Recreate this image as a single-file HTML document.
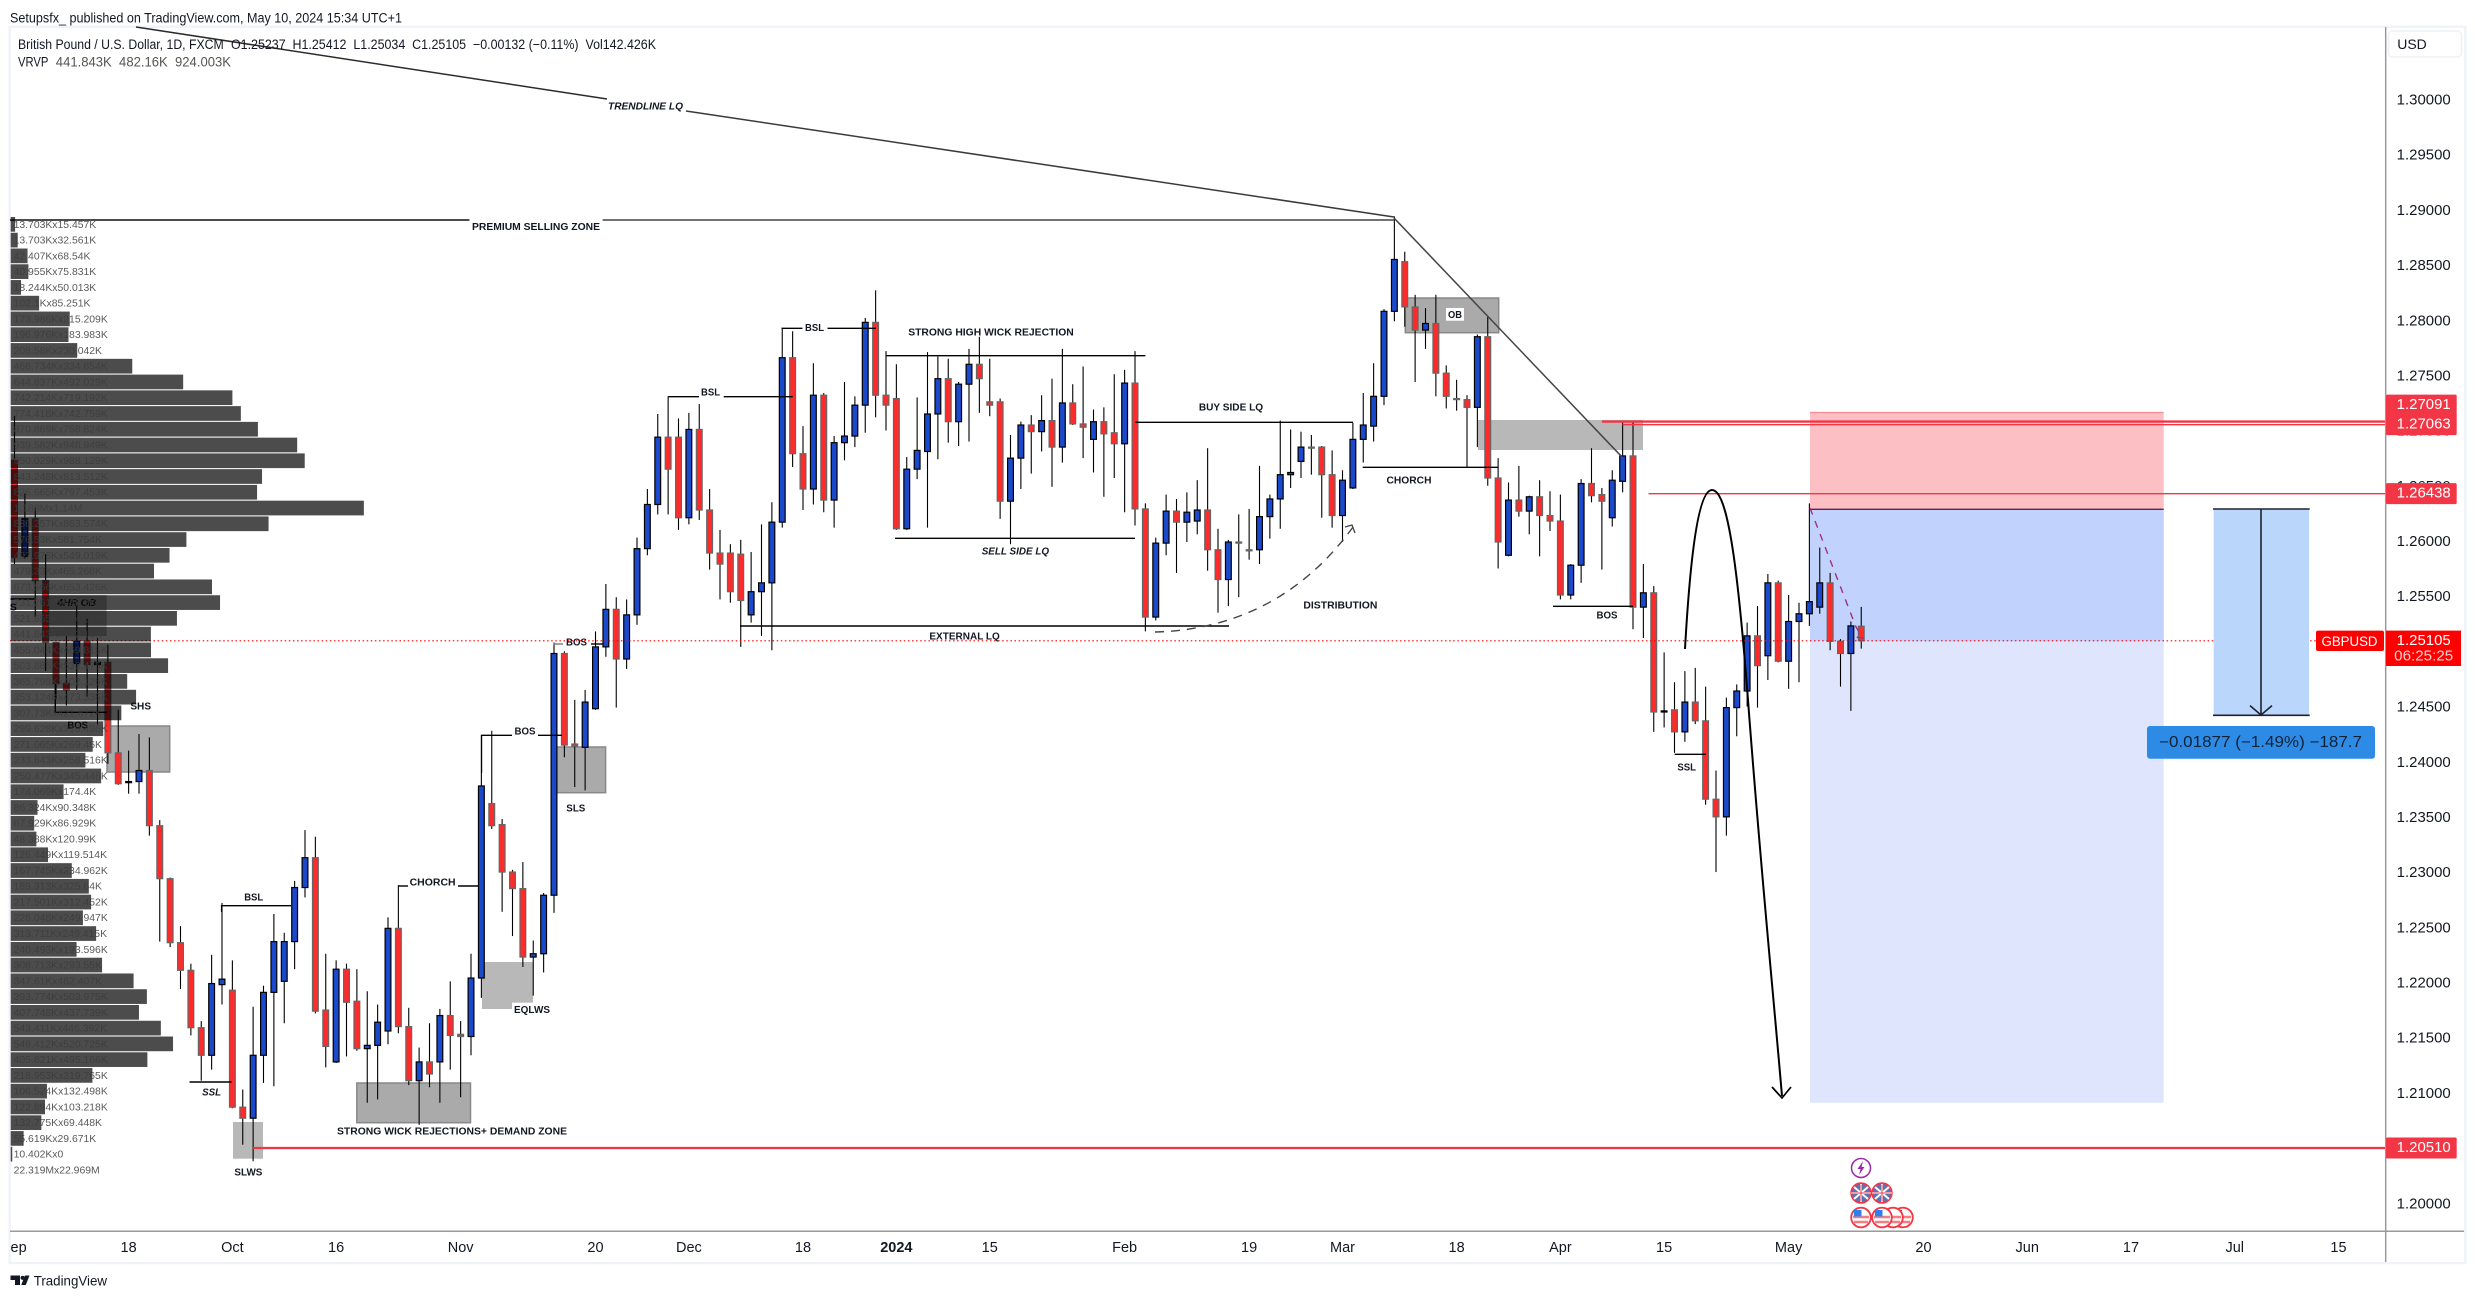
<!DOCTYPE html>
<html lang="en">
<head>
<meta charset="utf-8">
<title>GBPUSD chart</title>
<style>
html,body{margin:0;padding:0;background:#fff;width:2475px;height:1298px;overflow:hidden}
svg{display:block}
text{font-family:"Liberation Sans",sans-serif;fill:#131722}
.lbl{font-size:10.5px;font-weight:700;text-anchor:middle;dominant-baseline:central;fill:#131722}
.it{font-style:italic}
.ann{stroke:#000;stroke-width:1.4;fill:none}
.box{fill:#aaaaaa;stroke:#888;stroke-width:1.5}
.flat{fill:#b9b8b8;stroke:none}
.hdr{font-size:13.5px;dominant-baseline:central;white-space:pre}
</style>
</head>
<body>
<svg id="chart" xmlns="http://www.w3.org/2000/svg" width="2475" height="1298" viewBox="0 0 2475 1298">
  <rect x="0" y="0" width="2475" height="1298" fill="#ffffff"/>
  <text class="hdr" x="10" y="18" textLength="392" lengthAdjust="spacingAndGlyphs">Setupsfx_ published on TradingView.com, May 10, 2024 15:34 UTC+1</text>
  <rect x="9.7" y="26.7" width="2455.6" height="1236.3" fill="none" stroke="#f0f3fa" stroke-width="2.5"/>

  <g>
    <rect x="1810" y="412.3" width="353.7" height="97" fill="#fcbfc4"/>
    <line x1="1810" y1="412.5" x2="2163.7" y2="412.5" stroke="#f88d96" stroke-width="1.2"/>
    <rect x="1810" y="509.3" width="353.7" height="593.4" fill="#dee5fd"/>
    <rect x="1810" y="509.3" width="353.7" height="131.7" fill="#c1d3fd"/>
    <line x1="1810" y1="509.3" x2="2163.7" y2="509.3" stroke="#6a1a5a" stroke-width="1.3"/>
  </g>

  <g>
    <rect x="49" y="595" width="57.7" height="41" fill="#bbbbbb"/>
    <rect class="box" x="107" y="726" width="62.7" height="46"/>
    <rect class="box" x="556.6" y="747" width="49" height="45.7"/>
    <rect class="flat" x="482" y="962" width="51" height="40.7"/>
    <rect class="flat" x="482" y="1002" width="30" height="7"/>
    <rect class="box" x="356.8" y="1083" width="113.7" height="39.7"/>
    <rect class="flat" x="233" y="1122" width="30" height="36.7"/>
    <rect class="box" x="1405.3" y="298" width="93.4" height="34.7"/>
    <rect class="flat" x="1478" y="420" width="165" height="30"/>
  </g>

  <g id="candles"></g>
  <g id="priceLines"></g>

  <g>
    <polyline points="136,27 607,99" fill="none" stroke="#2b2b2b" stroke-width="1.5"/>
    <line x1="686" y1="111" x2="1394" y2="217" stroke="#3a3a3a" stroke-width="1.5"/>
    <text class="lbl it" x="645.5" y="106.7" textLength="75" lengthAdjust="spacingAndGlyphs">TRENDLINE LQ</text>
    <line x1="10" y1="220" x2="469.5" y2="220" stroke="#111" stroke-width="1.5"/>
    <line x1="602.6" y1="220" x2="1394" y2="220" stroke="#444" stroke-width="1.5"/>
    <text class="lbl" x="536" y="227" textLength="128" lengthAdjust="spacingAndGlyphs">PREMIUM SELLING ZONE</text>
    <line x1="1394" y1="218" x2="1621.7" y2="456.7" stroke="#444" stroke-width="1.5"/>

    <line class="ann" x1="10.5" y1="599" x2="34.3" y2="599"/>
    <text class="lbl" x="13.3" y="607.7">S</text>
    <text class="lbl it" x="76.7" y="603" textLength="38.7" lengthAdjust="spacingAndGlyphs">4HR OB</text>
    <polyline class="ann" points="55.3,684 55.3,712.3 107,712.3"/>
    <text class="lbl" x="77.7" y="725.7" textLength="20.7" lengthAdjust="spacingAndGlyphs">BOS</text>
    <text class="lbl" x="140.7" y="706.3" textLength="20.7" lengthAdjust="spacingAndGlyphs">SHS</text>

    <line class="ann" x1="189.5" y1="1082" x2="231.6" y2="1082"/>
    <text class="lbl it" x="211.6" y="1092.7" textLength="19" lengthAdjust="spacingAndGlyphs">SSL</text>
    <text class="lbl" x="248.4" y="1172.3" textLength="28" lengthAdjust="spacingAndGlyphs">SLWS</text>
    <polyline class="ann" points="221.6,912 221.6,905.7 291,905.7"/>
    <text class="lbl" x="253.7" y="897.7" textLength="19" lengthAdjust="spacingAndGlyphs">BSL</text>
    <line class="ann" x1="398" y1="886" x2="408" y2="886"/>
    <line class="ann" x1="458" y1="886" x2="479" y2="886"/>
    <text class="lbl" x="432.6" y="882.3" textLength="46" lengthAdjust="spacingAndGlyphs">CHORCH</text>
    <text class="lbl" x="452" y="1131.3" textLength="230" lengthAdjust="spacingAndGlyphs">STRONG WICK REJECTIONS+ DEMAND ZONE</text>
    <text class="lbl" x="532" y="1010" textLength="36" lengthAdjust="spacingAndGlyphs">EQLWS</text>

    <polyline class="ann" points="481.5,773 481.5,735.3 512,735.3"/>
    <line class="ann" x1="538" y1="735.3" x2="562" y2="735.3"/>
    <text class="lbl" x="525" y="731.7" textLength="21" lengthAdjust="spacingAndGlyphs">BOS</text>
    <line x1="553.6" y1="644" x2="563" y2="644" stroke="#777" stroke-width="1.4"/>
    <line class="ann" x1="591" y1="644" x2="602.6" y2="644"/>
    <text class="lbl" x="576.5" y="642.3" textLength="21" lengthAdjust="spacingAndGlyphs">BOS</text>
    <text class="lbl" x="575.8" y="808.7" textLength="19" lengthAdjust="spacingAndGlyphs">SLS</text>

    <line class="ann" x1="740" y1="626" x2="1229" y2="626"/>
    <text class="lbl" x="964.6" y="636.3" textLength="70.5" lengthAdjust="spacingAndGlyphs">EXTERNAL LQ</text>
    <line class="ann" x1="668.4" y1="396.7" x2="699" y2="396.7"/>
    <line class="ann" x1="723.7" y1="396.7" x2="792.7" y2="396.7"/>
    <text class="lbl" x="710.5" y="392.7" textLength="19" lengthAdjust="spacingAndGlyphs">BSL</text>
    <line class="ann" x1="781.5" y1="328.3" x2="802.5" y2="328.3"/>
    <line class="ann" x1="827.5" y1="328.3" x2="876" y2="328.3"/>
    <text class="lbl" x="814.5" y="328" textLength="19" lengthAdjust="spacingAndGlyphs">BSL</text>
    <line class="ann" x1="886" y1="355.7" x2="1145.4" y2="355.7"/>
    <text class="lbl" x="991" y="332.3" textLength="165.6" lengthAdjust="spacingAndGlyphs">STRONG HIGH WICK REJECTION</text>
    <line class="ann" x1="895" y1="538.3" x2="1135" y2="538.3"/>
    <text class="lbl it" x="1015.4" y="551.3" textLength="67.4" lengthAdjust="spacingAndGlyphs">SELL SIDE LQ</text>
    <line class="ann" x1="1135.5" y1="422.3" x2="1353" y2="422.3"/>
    <text class="lbl" x="1231" y="407.3" textLength="64.3" lengthAdjust="spacingAndGlyphs">BUY SIDE LQ</text>
    <line class="ann" x1="1362.7" y1="467.3" x2="1498" y2="467.3"/>
    <text class="lbl" x="1409" y="480.3" textLength="45" lengthAdjust="spacingAndGlyphs">CHORCH</text>
    <text class="lbl" x="1340.4" y="605.3" textLength="74" lengthAdjust="spacingAndGlyphs">DISTRIBUTION</text>
    <path d="M1155,632 C1230,630 1300,600 1353,527" fill="none" stroke="#444" stroke-width="1.4" stroke-dasharray="9 7"/>
    <path d="M1345,527 L1352,525 L1355,533" fill="none" stroke="#444" stroke-width="1.3"/>

    <rect x="1446" y="308" width="18" height="12.7" fill="#ffffff"/>
    <text class="lbl" x="1455" y="315" textLength="14" lengthAdjust="spacingAndGlyphs">OB</text>
    <line class="ann" x1="1553" y1="606.3" x2="1633" y2="606.3"/>
    <text class="lbl" x="1607" y="615.7" textLength="21" lengthAdjust="spacingAndGlyphs">BOS</text>
    <line class="ann" x1="1674.7" y1="754.3" x2="1706" y2="754.3"/>
    <text class="lbl" x="1686.7" y="767.3" textLength="18.7" lengthAdjust="spacingAndGlyphs">SSL</text>

    <path d="M1685,649 C1690,560 1698,490 1712,490 C1728,490 1738,570 1748,700 C1760,860 1772,980 1782,1096" fill="none" stroke="#000" stroke-width="2"/>
    <polyline points="1772,1087 1782,1098 1791,1087" fill="none" stroke="#000" stroke-width="1.7"/>
    <path d="M1810,508 L1856,627 L1863,638 L1855,637" fill="none" stroke="#a0307a" stroke-width="1.4" stroke-dasharray="7 7"/>
  </g>

  <g>
    <rect x="2213.7" y="509" width="95.3" height="206.3" fill="#bbd6fb"/>
    <line x1="2213" y1="509" x2="2309.7" y2="509" stroke="#1e222d" stroke-width="1.6"/>
    <line x1="2213" y1="715.3" x2="2309.7" y2="715.3" stroke="#1e222d" stroke-width="1.6"/>
    <line x1="2261" y1="509" x2="2261" y2="715" stroke="#1e222d" stroke-width="1.6"/>
    <polyline points="2250,705.6 2261,715 2272,705.6" fill="none" stroke="#1e222d" stroke-width="1.6"/>
    <rect x="2147" y="726" width="228" height="32.7" rx="3" fill="#2e8be5"/>
    <text x="2260.5" y="742.5" text-anchor="middle" dominant-baseline="central" font-size="15.5" textLength="203" lengthAdjust="spacingAndGlyphs" style="fill:#0f2238">−0.01877 (−1.49%) −187.7</text>
  </g>

  <g id="vrvp"></g>

  <text class="hdr" x="18" y="44.7" textLength="205.7" lengthAdjust="spacingAndGlyphs">British Pound / U.S. Dollar, 1D, FXCM</text>
  <text class="hdr" x="231" y="44.7" textLength="425" lengthAdjust="spacingAndGlyphs">O1.25237  H1.25412  L1.25034  C1.25105  −0.00132 (−0.11%)  Vol142.426K</text>
  <text class="hdr" x="18" y="62" textLength="30.4" lengthAdjust="spacingAndGlyphs">VRVP</text>
  <text class="hdr" x="55.8" y="62" textLength="175.2" lengthAdjust="spacingAndGlyphs" style="fill:#555">441.843K  482.16K  924.003K</text>

  <g>
    <circle cx="1861" cy="1168" r="9.5" fill="#fff" stroke="#9c27b0" stroke-width="1.5"/>
    <polygon points="1863,1161 1857.5,1169 1860.5,1169 1859,1175 1864.5,1167 1861.5,1167" fill="#9c27b0"/>
    <g>
      <circle cx="1861" cy="1193" r="9.8" fill="#5a74b8" stroke="#f23645" stroke-width="1.8"/>
      <path d="M1854,1187 L1868,1199 M1868,1187 L1854,1199 M1851.5,1193 H1870.5 M1861,1184 V1202" stroke="#fff" stroke-width="2"/>
      <path d="M1852,1193 H1870 M1861,1184.5 V1201.5" stroke="#e8384a" stroke-width="1"/>
    </g>
    <g>
      <circle cx="1882" cy="1193" r="9.8" fill="#5a74b8" stroke="#f23645" stroke-width="1.8"/>
      <path d="M1875,1187 L1889,1199 M1889,1187 L1875,1199 M1872.5,1193 H1891.5 M1882,1184 V1202" stroke="#fff" stroke-width="2"/>
      <path d="M1873,1193 H1891 M1882,1184.5 V1201.5" stroke="#e8384a" stroke-width="1"/>
    </g>
    <g>
      <circle cx="1903" cy="1217.5" r="9.8" fill="#fff" stroke="#f23645" stroke-width="1.8"/>
      <path d="M1895,1217 H1911 M1896,1222 H1910" stroke="#f77c80" stroke-width="2.4"/>
      <rect x="1896" y="1210" width="6" height="6" fill="#2f80ed"/>
    </g>
    <g>
      <circle cx="1893" cy="1217.5" r="9.8" fill="#fff" stroke="#f23645" stroke-width="1.8"/>
      <path d="M1885,1217 H1901 M1886,1222 H1900" stroke="#f77c80" stroke-width="2.4"/>
    </g>
    <g>
      <circle cx="1882" cy="1217.5" r="9.8" fill="#fff" stroke="#f23645" stroke-width="1.8"/>
      <path d="M1874,1217 H1890 M1875,1222 H1889" stroke="#f77c80" stroke-width="2.4"/>
      <rect x="1875" y="1210" width="7.5" height="6.5" fill="#2f80ed"/>
    </g>
    <g>
      <circle cx="1861" cy="1217.5" r="9.8" fill="#fff" stroke="#f23645" stroke-width="1.8"/>
      <path d="M1853,1217 H1869 M1854,1222 H1868" stroke="#f77c80" stroke-width="2.4"/>
      <rect x="1854" y="1210" width="7.5" height="6.5" fill="#2f80ed"/>
    </g>
  </g>

  <rect x="11" y="1232" width="2453" height="30" fill="#fff"/>
  <rect x="2386" y="28" width="78" height="1204" fill="#fff"/>
  <line x1="10" y1="1231.3" x2="2464" y2="1231.3" stroke="#9a9a9a" stroke-width="1.5"/>
  <line x1="2385.7" y1="27" x2="2385.7" y2="1262" stroke="#9a9a9a" stroke-width="1.5"/>
  <g id="priceAxis"></g>
  <g id="timeAxis"></g>
  <g id="priceTags"></g>

  <rect x="2388.5" y="31" width="73" height="26" rx="4" fill="#fff" stroke="#eef0f6" stroke-width="1.5"/>
  <text x="2412" y="44" text-anchor="middle" dominant-baseline="central" font-size="14">USD</text>

  <rect x="2386" y="630.6" width="75" height="35.4" fill="#ff0000"/>
  <text x="2423.7" y="640.8" text-anchor="middle" dominant-baseline="central" font-size="14.5" textLength="54" lengthAdjust="spacingAndGlyphs" style="fill:#fff">1.25105</text>
  <text x="2423.7" y="656.6" text-anchor="middle" dominant-baseline="central" font-size="14.5" textLength="59" lengthAdjust="spacingAndGlyphs" style="fill:#ffd0d0">06:25:25</text>
  <rect x="2316" y="630.6" width="68" height="20.4" rx="2" fill="#ff0000"/>
  <text x="2349.5" y="641" text-anchor="middle" dominant-baseline="central" font-size="14" textLength="56" lengthAdjust="spacingAndGlyphs" style="fill:#fff">GBPUSD</text>

  <g>
    <path d="M10.5,1275.5 H20 V1285 H15 V1280 H10.5 Z" fill="#131722"/>
    <circle cx="22.6" cy="1277.8" r="2.1" fill="#131722"/>
    <polygon points="25,1275.5 29.5,1275.5 25.8,1285 21.2,1285" fill="#131722"/>
    <text x="33.7" y="1280.7" dominant-baseline="central" font-size="14" textLength="73.3" lengthAdjust="spacingAndGlyphs">TradingView</text>
  </g>
</svg>

<script>
// Daily OHLC values, GBPUSD (one entry per bar)
const opens = [1.2674,1.2587,1.2621,1.2565,1.2509,1.2472,1.2490,1.2510,1.2489,1.2491,
1.2409,1.2382,1.2383,1.2393,1.2343,1.2295,1.2237,1.2212,1.2160,1.2135,
1.2199,1.2194,1.2088,1.2078,1.2135,1.2192,1.2202,1.2238,1.2287,1.2314,
1.2176,1.2129,1.2213,1.2184,1.2141,1.2144,1.2157,1.2250,1.2161,1.2112,
1.2129,1.2129,1.2171,1.2154,1.2152,1.2205,1.2363,1.2344,1.2301,1.2286,
1.2224,1.2227,1.2280,1.2499,1.2417,1.2414,1.2449,1.2505,1.2539,1.2494,
1.2534,1.2594,1.2634,1.2695,1.2695,1.2622,1.2702,1.2629,1.2590,1.2590,
1.2589,1.2534,1.2555,1.2563,1.2618,1.2767,1.2680,1.2648,1.2733,1.2638,
1.2690,1.2696,1.2724,1.2799,1.2733,1.2730,1.2612,1.2666,1.2682,1.2716,
1.2748,1.2709,1.2743,1.2761,1.2727,1.2727,1.2637,1.2676,1.2706,1.2700,
1.2710,1.2686,1.2726,1.2707,1.2693,1.2709,1.2699,1.2689,1.2744,1.2630,
1.2532,1.2599,1.2628,1.2618,1.2619,1.2629,1.2593,1.2566,1.2600,1.2593,
1.2593,1.2623,1.2639,1.2661,1.2673,1.2686,1.2686,1.2661,1.2624,1.2649,
1.2693,1.2705,1.2732,1.2809,1.2854,1.2813,1.2792,1.2798,1.2753,1.2730,
1.2729,1.2722,1.2786,1.2658,1.2588,1.2638,1.2628,1.2641,1.2624,1.2619,
1.2552,1.2579,1.2653,1.2643,1.2622,1.2655,1.2678,1.2541,1.2554,1.2446,
1.2448,1.2428,1.2455,1.2438,1.2367,1.2351,1.2450,1.2465,1.2515,1.2497,
1.2563,1.2492,1.2528,1.2535,1.2541,1.2563,1.2510,1.2499,1.25237];
const highs = [1.2714,1.2644,1.2631,1.2589,1.2509,1.2515,1.2543,1.2531,1.2513,1.2507,
1.2448,1.2411,1.2426,1.2423,1.2348,1.2296,1.2252,1.2218,1.2166,1.2226,
1.2273,1.2221,1.2104,1.2179,1.2198,1.2263,1.2246,1.2293,1.2339,1.2333,
1.2227,1.2221,1.2218,1.2213,1.2193,1.2181,1.2260,1.2289,1.2178,1.2142,
1.2164,1.2177,1.2202,1.2166,1.2227,1.2391,1.2429,1.2349,1.2303,1.2310,
1.2239,1.2282,1.2509,1.2501,1.2457,1.2466,1.2519,1.2562,1.2550,1.2548,
1.2604,1.2648,1.2716,1.2732,1.2712,1.2717,1.2725,1.2648,1.2611,1.2598,
1.2602,1.2591,1.2616,1.2636,1.2794,1.2791,1.2705,1.2762,1.2735,1.2696,
1.2745,1.2732,1.2803,1.2828,1.2773,1.2761,1.2677,1.2731,1.2772,1.2768,
1.2766,1.2745,1.2775,1.2786,1.2766,1.2730,1.2697,1.2709,1.2715,1.2733,
1.2748,1.2775,1.2743,1.2759,1.2720,1.2722,1.2752,1.2756,1.2773,1.2635,
1.2604,1.2643,1.2639,1.2645,1.2656,1.2685,1.2612,1.2602,1.2625,1.2630,
1.2669,1.2643,1.2710,1.2702,1.2700,1.2697,1.2687,1.2683,1.2665,1.2708,
1.2735,1.2762,1.2811,1.2895,1.2863,1.2824,1.2812,1.2824,1.2760,1.2747,
1.2733,1.2788,1.2804,1.2676,1.2654,1.2669,1.2642,1.2656,1.2646,1.2643,
1.2580,1.2657,1.2685,1.2649,1.2665,1.2709,1.2709,1.2580,1.2560,1.2500,
1.2473,1.2483,1.2486,1.2469,1.2393,1.2459,1.2471,1.2527,1.2542,1.2571,
1.2565,1.2552,1.2545,1.2635,1.2595,1.2572,1.2512,1.2528,1.25412];
const lows = [1.2580,1.2585,1.2532,1.2483,1.2458,1.2452,1.2466,1.2460,1.2435,1.2399,
1.2380,1.2372,1.2372,1.2334,1.2238,1.2233,1.2195,1.2153,1.2112,1.2122,
1.2181,1.2087,1.2054,1.2039,1.2110,1.2107,1.2164,1.2213,1.2278,1.2173,
1.2124,1.2128,1.2134,1.2139,1.2092,1.2095,1.2145,1.2155,1.2108,1.2072,
1.2106,1.2092,1.2122,1.2097,1.2135,1.2187,1.2340,1.2265,1.2243,1.2215,
1.2189,1.2210,1.2264,1.2405,1.2378,1.2375,1.2448,1.2496,1.2450,1.2485,
1.2525,1.2588,1.2625,1.2625,1.2611,1.2616,1.2620,1.2575,1.2548,1.2545,
1.2505,1.2527,1.2515,1.2502,1.2613,1.2668,1.2629,1.2634,1.2627,1.2613,
1.2674,1.2686,1.2699,1.2713,1.2701,1.2611,1.2611,1.2657,1.2613,1.2675,
1.2690,1.2687,1.2691,1.2717,1.2714,1.2621,1.2598,1.2648,1.2662,1.2682,
1.2650,1.2672,1.2706,1.2676,1.2663,1.2641,1.2658,1.2627,1.2615,1.2519,
1.2529,1.2588,1.2572,1.2600,1.2607,1.2574,1.2536,1.2542,1.2550,1.2584,
1.2580,1.2603,1.2612,1.2649,1.2658,1.2661,1.2622,1.2613,1.2600,1.2648,
1.2672,1.2691,1.2724,1.2800,1.2795,1.2745,1.2775,1.2732,1.2721,1.2719,
1.2668,1.2686,1.2651,1.2576,1.2587,1.2623,1.2607,1.2587,1.2610,1.2548,
1.2548,1.2563,1.2636,1.2575,1.2614,1.2645,1.2521,1.2513,1.2428,1.2432,
1.2409,1.2419,1.2435,1.2362,1.2301,1.2334,1.2424,1.2451,1.2450,1.2475,
1.2491,1.2467,1.2473,1.2524,1.2535,1.2502,1.2469,1.2447,1.25034];
const closes = [1.2586,1.2621,1.2565,1.2509,1.2472,1.2466,1.2510,1.2489,1.2491,1.2409,
1.2381,1.2383,1.2393,1.2343,1.2295,1.2237,1.2212,1.2160,1.2135,1.2200,
1.2204,1.2088,1.2078,1.2135,1.2192,1.2238,1.2238,1.2287,1.2314,1.2175,
1.2143,1.2213,1.2183,1.2141,1.2144,1.2165,1.2250,1.2161,1.2112,1.2129,
1.2118,1.2171,1.2153,1.2152,1.2205,1.2379,1.2343,1.2301,1.2286,1.2224,
1.2227,1.2280,1.2499,1.2416,1.2415,1.2455,1.2505,1.2539,1.2494,1.2534,
1.2594,1.2634,1.2695,1.2666,1.2622,1.2702,1.2629,1.2590,1.2580,1.2555,
1.2547,1.2555,1.2563,1.2618,1.2767,1.2680,1.2648,1.2733,1.2638,1.2690,
1.2696,1.2724,1.2799,1.2733,1.2724,1.2612,1.2666,1.2683,1.2716,1.2748,
1.2709,1.2743,1.2761,1.2748,1.2724,1.2637,1.2676,1.2706,1.2700,1.2710,
1.2686,1.2726,1.2707,1.2704,1.2709,1.2698,1.2689,1.2744,1.2630,1.2532,
1.2599,1.2628,1.2618,1.2627,1.2629,1.2593,1.2566,1.2600,1.2599,1.2592,
1.2623,1.2639,1.2661,1.2663,1.2686,1.2685,1.2661,1.2624,1.2656,1.2693,
1.2706,1.2732,1.2809,1.2856,1.2813,1.2792,1.2798,1.2753,1.2732,1.2729,
1.2722,1.2786,1.2658,1.2600,1.2638,1.2628,1.2641,1.2624,1.2619,1.2552,
1.2579,1.2653,1.2642,1.2637,1.2656,1.2678,1.2541,1.2554,1.2446,1.2447,
1.2428,1.2455,1.2438,1.2367,1.2351,1.2450,1.2465,1.2515,1.2488,1.2563,
1.2492,1.2528,1.2535,1.2546,1.2563,1.2510,1.2499,1.2524,1.25105];

// Visible-range volume profile, in thousands, top row to bottom row
const vrvpUp = [13.703,13.703,42.407,40.955,18.244,102.1,173.986,196.976,208.58,466.734,
644.837,742.214,774.418,870.869,939.582,950.029,843.248,826.665,1188,836.257,
576.53,497.978,479.33,673.566,731.261,521.655,441.843,455.044,503.886,365.798,
353.124,307.73,299.628,271.065,233.843,250.477,174.069,86.324,67.929,48.388,
126.449,167.745,189.313,217.501,226.048,313.711,240.493,308.713,347.61,393.774,
407.748,543.411,549.412,405.821,218.953,106.524,122.894,132.775,55.619,10.402];
const vrvpDown = [15.457,32.561,68.54,75.831,50.013,85.251,215.209,183.983,230.042,334.654,
492.029,719.192,742.759,758.824,948.949,988.129,813.512,797.453,1140,863.574,
581.754,549.019,465.268,653.426,648.7,574.284,482.16,469.815,533.475,402.125,
473.335,421.672,310.496,269.46,258.516,345.446,174.4,90.348,86.929,120.99,
119.514,234.962,325.64,312.452,249.947,249.415,193.596,293.55,462.407,503.975,
437.739,446.392,520.725,495.166,319.765,132.498,103.218,69.448,29.671,0];
const vrvpTotals = [22319, 22969];

// Axis labels
const priceTicks = [1.30,1.295,1.29,1.285,1.28,1.275,1.27,1.265,1.26,1.255,1.25,1.245,1.24,1.235,1.23,1.225,1.22,1.215,1.21,1.205,1.20];
const timeLabels = ['18','Oct','16','Nov','20','Dec','18','2024','15','Feb','19','Mar','18','Apr','15','May','20','Jun','17','Jul','15'];
const timeBars = [11,21,31,43,56,65,76,85,94,107,119,128,139,149,159,171,184,194,204,214,224];

// Horizontal lines with their axis tags
const linePrices = [1.27091,1.27063,1.26438,1.2051];
const lineStartBars = [153,155,157.5,23];
const lineWidths = [2.4,1.3,1.3,2.2];

const NS = 'http://www.w3.org/2000/svg';
function make(tag, parent) {
  const el = document.createElementNS(NS, tag);
  parent.appendChild(el);
  return el;
}
function xScale(bar) { return 14.5 + bar * 10.375; }
function yScale(price) { return 100.5 + (1.30 - price) * 11038; }
function fmtVol(v) {
  if (v === 0) return '0';
  if (v >= 1000) return (+(v / 1000).toFixed(3)) + 'M';
  return (+v.toFixed(3)) + 'K';
}

// Candles
const candleLayer = document.getElementById('candles');
for (let i = 0; i < opens.length; i++) {
  const up = closes[i] >= opens[i];
  const cx = xScale(i);
  const g = make('g', candleLayer);
  
  
  const wick = make('line', g);
  
  
  wick.setAttribute('x1', cx);
  wick.setAttribute('x2', cx);
  wick.setAttribute('y1', yScale(highs[i]));
  wick.setAttribute('y2', yScale(lows[i]));
  wick.setAttribute('stroke', '#000');
  wick.setAttribute('stroke-width', '1.1');
  const top = yScale(Math.max(opens[i], closes[i]));
  const bot = yScale(Math.min(opens[i], closes[i]));
  const body = make('rect', g);
  
  
  body.setAttribute('x', cx - 2.9);
  body.setAttribute('width', 5.8);
  body.setAttribute('y', top);
  body.setAttribute('height', Math.max(bot - top, 0.6));
  body.setAttribute('fill', up ? '#1a49cc' : '#ff2a2a');
  body.setAttribute('stroke', up ? '#000' : '#666');
  body.setAttribute('stroke-width', '1.2');
}

// Last price dotted line
const dotted = make('line', document.getElementById('priceLines'));


dotted.setAttribute('x1', 10);
dotted.setAttribute('x2', 2316);
dotted.setAttribute('y1', yScale(closes[closes.length - 1]));
dotted.setAttribute('y2', yScale(closes[closes.length - 1]));
dotted.setAttribute('stroke', '#ff0000');
dotted.setAttribute('stroke-width', '1.2');
dotted.setAttribute('stroke-dasharray', '1.5 2.6');

// Red level lines
linePrices.forEach(function (p, k) {
  const ln = make('line', document.getElementById('priceLines'));
  
  
  ln.setAttribute('x1', xScale(lineStartBars[k]));
  ln.setAttribute('x2', 2385);
  ln.setAttribute('y1', yScale(p));
  ln.setAttribute('y2', yScale(p));
  ln.setAttribute('stroke', '#f23645');
  ln.setAttribute('stroke-width', lineWidths[k]);
});

// Volume profile bars and labels
const vrvpLayer = document.getElementById('vrvp');
function rowTop(r) { return 217 + r * 15.76; }
function vrvpWidth(total) { return total * 0.1517; }
vrvpUp.forEach(function (u, r) {
  const bar = make('rect', vrvpLayer);
  
  
  bar.setAttribute('x', 10.7);
  bar.setAttribute('y', rowTop(r));
  bar.setAttribute('width', vrvpWidth(u + vrvpDown[r]));
  bar.setAttribute('height', 14.7);
  bar.setAttribute('fill', 'rgba(0,0,0,0.7)');
});
vrvpUp.forEach(function (u, r) {
  const label = make('text', vrvpLayer);
  
  
  label.setAttribute('x', 13.6);
  label.setAttribute('y', rowTop(r) + 8.3);
  label.setAttribute('font-size', '10.4');
  label.setAttribute('dominant-baseline', 'central');
  label.style.fill = 'rgba(60,60,60,0.85)';
  label.textContent = fmtVol(u) + 'x' + fmtVol(vrvpDown[r]);
});
const totalLabel = make('text', vrvpLayer);


totalLabel.setAttribute('x', 13.6);
totalLabel.setAttribute('y', rowTop(vrvpUp.length) + 8.3);
totalLabel.setAttribute('font-size', '10.4');
totalLabel.setAttribute('dominant-baseline', 'central');
totalLabel.style.fill = 'rgba(60,60,60,0.85)';
totalLabel.textContent = fmtVol(vrvpTotals[0]) + 'x' + fmtVol(vrvpTotals[1]);

// Price axis
const priceAxis = document.getElementById('priceAxis');
priceTicks.forEach(function (p) {
  const t = make('text', priceAxis);
  
  
  t.setAttribute('x', 2423.7);
  t.setAttribute('y', yScale(p));
  t.setAttribute('text-anchor', 'middle');
  t.setAttribute('dominant-baseline', 'central');
  t.setAttribute('font-size', '14.5');
  t.setAttribute('textLength', '54');
  t.setAttribute('lengthAdjust', 'spacingAndGlyphs');
  t.textContent = p.toFixed(5);
});

// Time axis
const timeAxis = document.getElementById('timeAxis');
const sepLabel = make('text', timeAxis);


sepLabel.setAttribute('x', 10.5);
sepLabel.setAttribute('y', 1248);
sepLabel.setAttribute('dominant-baseline', 'central');
sepLabel.setAttribute('font-size', '14.5');
sepLabel.textContent = 'ep';
timeLabels.forEach(function (label, k) {
  const t = make('text', timeAxis);
  
  
  t.setAttribute('x', xScale(timeBars[k]));
  t.setAttribute('y', 1248);
  t.setAttribute('text-anchor', 'middle');
  t.setAttribute('dominant-baseline', 'central');
  t.setAttribute('font-size', '14.5');
  if (label === '2024') t.setAttribute('font-weight', '700');
  t.textContent = label;
});

// Level tags on the price axis
const tagLayer = document.getElementById('priceTags');
const tagOffsets = [-16.5, 0, 0, 0];
linePrices.forEach(function (p, k) {
  const cy = yScale(p) + tagOffsets[k];
  const box = make('rect', tagLayer);
  
  
  box.setAttribute('x', 2386);
  box.setAttribute('y', cy - 10.5);
  box.setAttribute('width', 70.7);
  box.setAttribute('height', 21);
  box.setAttribute('rx', 1.5);
  box.setAttribute('fill', '#f23645');
  const t = make('text', tagLayer);
  
  
  t.setAttribute('x', 2423.7);
  t.setAttribute('y', cy);
  t.setAttribute('text-anchor', 'middle');
  t.setAttribute('dominant-baseline', 'central');
  t.setAttribute('font-size', '14.5');
  t.setAttribute('textLength', '54');
  t.setAttribute('lengthAdjust', 'spacingAndGlyphs');
  t.style.fill = '#ffffff';
  t.textContent = p.toFixed(5);
});
</script>
</body>
</html>
